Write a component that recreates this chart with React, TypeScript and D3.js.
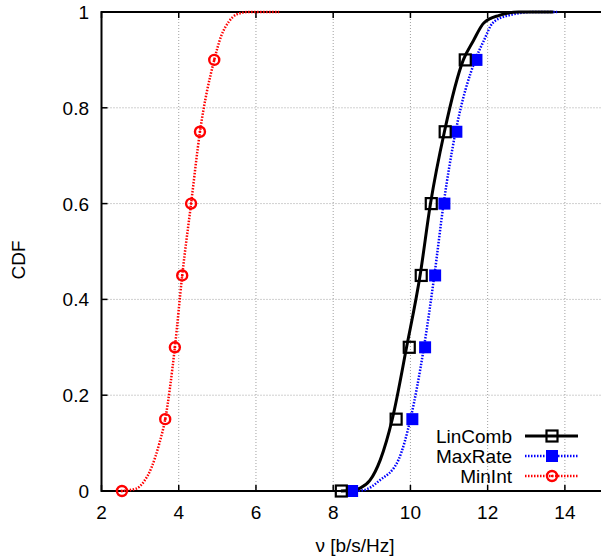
import {useEffect, useRef} from "react";
import * as d3 from "d3";

const xTicks = [2, 4, 6, 8, 10, 12, 14];
const yTicks = [0, 0.2, 0.4, 0.6, 0.8, 1];
const markerLevels = [0, 0.15, 0.3, 0.45, 0.6, 0.75, 0.9];

// curve knots [rate, cdf]
const linCombCurve = [[8.2, 0], [8.45, 0.001], [8.7, 0.006], [8.95, 0.022], [9.22, 0.065], [9.53, 0.15], [9.9, 0.3], [10.25, 0.45], [10.52, 0.6], [10.88, 0.75], [11.37, 0.9], [11.63, 0.94], [11.9, 0.977], [12.3, 0.993], [12.8, 1], [13.7, 1]];
const maxRateCurve = [[8.5, 0], [8.8, 0.002], [9.2, 0.022], [9.69, 0.065], [10.0, 0.15], [10.35, 0.3], [10.62, 0.45], [10.86, 0.6], [11.17, 0.75], [11.68, 0.9], [11.9, 0.94], [12.13, 0.977], [12.5, 0.992], [13.2, 1], [13.8, 1]];
const minIntCurve = [[2.5, 0], [2.9, 0.005], [3.1, 0.02], [3.3, 0.05], [3.5, 0.1], [3.65, 0.15], [3.9, 0.3], [4.09, 0.45], [4.32, 0.6], [4.55, 0.75], [4.92, 0.9], [5.1, 0.95], [5.3, 0.98], [5.5, 0.995], [5.8, 1], [6.6, 1]];

const linCombMarks = [8.21, 9.63, 9.97, 10.28, 10.54, 10.9, 11.42];
const maxRateMarks = [8.49, 10.05, 10.38, 10.64, 10.88, 11.19, 11.71];
const minIntMarks = [2.53, 3.65, 3.9, 4.09, 4.32, 4.55, 4.92];

const seriesNames = ["LinComb", "MaxRate", "MinInt"];

export default function App() {
    const svgRef = useRef<SVGSVGElement | null>(null);

    useEffect(() => {
        if (!svgRef.current) return;
        const svg = d3.select(svgRef.current);
        svg.selectAll("*").remove();
        const font = "'Liberation Sans', Arial, sans-serif";
        const fs = "19px";

        const x = d3.scaleLinear().domain([2, 15]).range([101.5, 603.5]);
        const y = d3.scaleLinear().domain([0, 1]).range([491, 12]);

        // grid
        const grid = svg.append("g").attr("stroke", "#a0a0a0").attr("stroke-width", 1).attr("stroke-dasharray", "1,2");
        xTicks.slice(1).forEach(t => {
            grid.append("line").attr("x1", x(t)).attr("x2", x(t)).attr("y1", y(0)).attr("y2", y(1));
        });
        yTicks.slice(1, -1).forEach(t => {
            grid.append("line").attr("x1", x(2)).attr("x2", 601).attr("y1", y(t)).attr("y2", y(t));
        });

        // tick marks
        const ticks = svg.append("g").attr("stroke", "#000").attr("stroke-width", 1.5);
        xTicks.forEach(t => {
            ticks.append("line").attr("x1", x(t)).attr("x2", x(t)).attr("y1", y(0)).attr("y2", y(0) - 6);
            ticks.append("line").attr("x1", x(t)).attr("x2", x(t)).attr("y1", y(1)).attr("y2", y(1) + 6);
        });
        yTicks.forEach(t => {
            ticks.append("line").attr("x1", x(2)).attr("x2", x(2) + 6).attr("y1", y(t)).attr("y2", y(t));
        });

        // frame
        svg.append("path")
            .attr("d", `M${x(15)},${y(1)}H${x(2)}V${y(0)}H${x(15)}`)
            .attr("fill", "none").attr("stroke", "#000").attr("stroke-width", 2);

        // tick labels
        xTicks.forEach(t => {
            svg.append("text").attr("x", x(t)).attr("y", 519).attr("text-anchor", "middle")
                .style("font-family", font).style("font-size", fs).text(t);
        });
        yTicks.forEach(t => {
            svg.append("text").attr("x", 89).attr("y", y(t) + 7).attr("text-anchor", "end")
                .style("font-family", font).style("font-size", fs).text(String(t));
        });

        svg.append("text").attr("x", 355).attr("y", 552).attr("text-anchor", "middle")
            .style("font-family", font).style("font-size", fs).text("ν [b/s/Hz]");
        svg.append("text").attr("transform", "translate(25,260) rotate(-90)").attr("text-anchor", "middle")
            .style("font-family", font).style("font-size", fs).text("CDF");

        const line = d3.line<number[]>().x(d => x(d[0])).y(d => y(d[1])).curve(d3.curveMonotoneX);

        const styles = [
            {curve: linCombCurve, marks: linCombMarks, color: "#000", width: 3, dash: null},
            {curve: maxRateCurve, marks: maxRateMarks, color: "#0000ff", width: 2.5, dash: "1.5,1.5"},
            {curve: minIntCurve, marks: minIntMarks, color: "#ff0000", width: 2.5, dash: "1.5,1.5"},
        ];

        function drawMarker(g: any, i: number, cx: number, cy: number) {
            if (i === 0) {
                g.append("rect").attr("x", cx - 5.5).attr("y", cy - 5.5).attr("width", 11).attr("height", 11)
                    .attr("fill", "none").attr("stroke", "#000").attr("stroke-width", 2.2);
            } else if (i === 1) {
                g.append("rect").attr("x", cx - 6).attr("y", cy - 6).attr("width", 12).attr("height", 12)
                    .attr("fill", "#0000ff");
            } else {
                g.append("circle").attr("cx", cx).attr("cy", cy).attr("r", 5)
                    .attr("fill", "none").attr("stroke", "#ff0000").attr("stroke-width", 2.4);
                g.append("circle").attr("cx", cx).attr("cy", cy).attr("r", 1.3).attr("fill", "#ff0000");
            }
        }

        // draw MinInt, MaxRate first, then LinComb on top
        [2, 1, 0].forEach(i => {
            const s = styles[i];
            svg.append("path").datum(s.curve).attr("d", line).attr("fill", "none")
                .attr("stroke", s.color).attr("stroke-width", s.width)
                .attr("stroke-dasharray", s.dash);
        });
        [2, 1, 0].forEach(i => {
            const s = styles[i];
            const g = svg.append("g");
            s.marks.forEach((m, k) => drawMarker(g, i, x(m), y(markerLevels[k])));
        });

        // legend
        seriesNames.forEach((name, i) => {
            const ly = 436 + i * 20;
            const s = styles[i];
            svg.append("text").attr("x", 512).attr("y", ly + 7).attr("text-anchor", "end")
                .style("font-family", font).style("font-size", fs).text(name);
            svg.append("line").attr("x1", 525).attr("x2", 578).attr("y1", ly).attr("y2", ly)
                .attr("stroke", s.color).attr("stroke-width", s.width).attr("stroke-dasharray", s.dash);
            drawMarker(svg.append("g"), i, 552, ly);
        });
    }, []);

    return (
        <svg ref={svgRef} width={601} height={556} style={{position: "absolute", left: 0, top: 0, background: "#fff"}}></svg>
    );
}
